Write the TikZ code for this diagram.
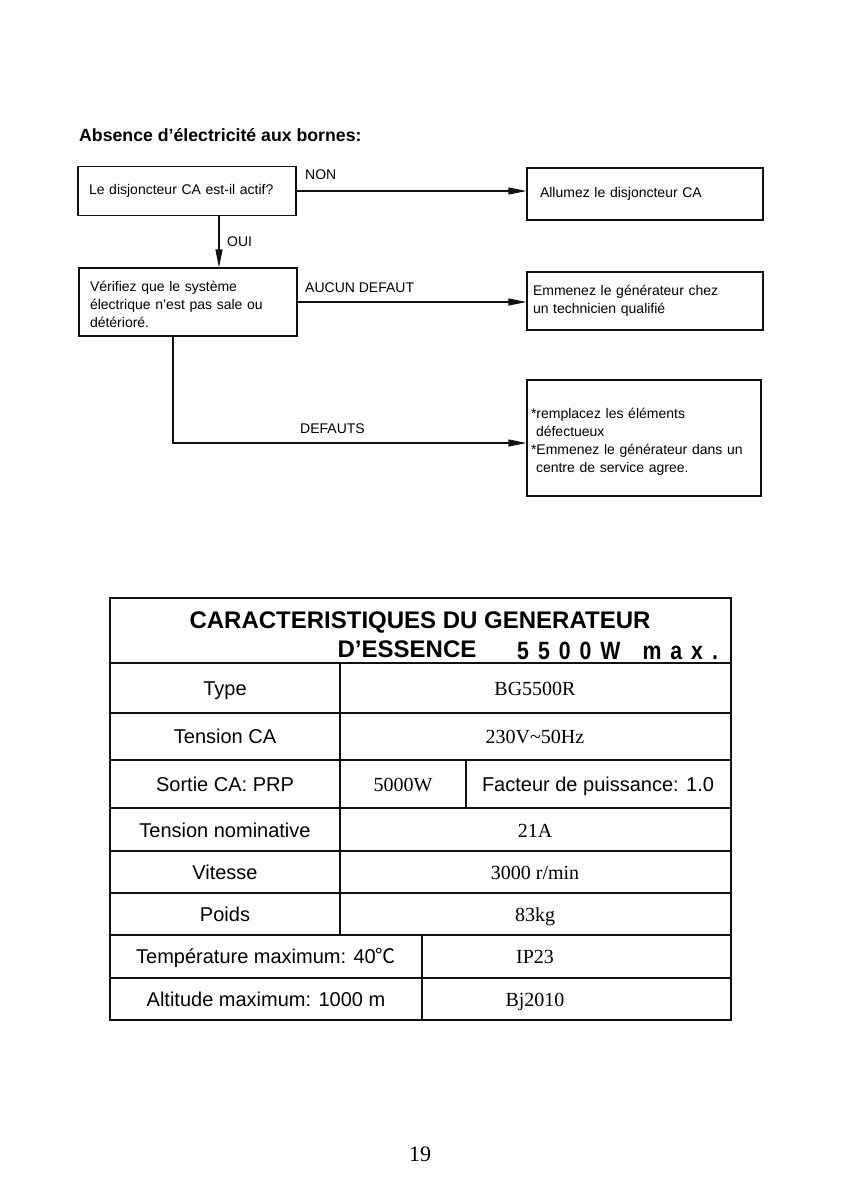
\documentclass[tikz,border=0pt]{standalone}
\usepackage{fontspec}
\setmainfont{Liberation Sans}
\newfontfamily\serifface{Liberation Serif}
\newfontfamily\narrowface[FakeStretch=0.85]{Liberation Sans}
\newfontfamily\cjkface{Noto Sans CJK SC}
\usetikzlibrary{positioning, calc, arrows.meta}
\usepackage{xcolor}
\definecolor{InkBlack}{HTML}{111111}

\begin{document}
\begin{tikzpicture}[
  x=1pt, y=-1pt,
  box/.style={rectangle, draw=InkBlack, line width=1.1pt, align=left,
    font=\fontsize{14}{18}\selectfont, inner xsep=11pt, inner ysep=2pt},
  arr/.style={-{Triangle[length=18pt, width=7pt]}, line width=1.1pt, color=InkBlack},
  lbl/.style={font=\fontsize{14}{16}\selectfont, inner sep=0pt, anchor=base west},
  tbl/.style={line width=1.2pt, color=InkBlack},
  lcell/.style={font=\fontsize{20}{24}\selectfont, inner sep=0pt, anchor=base},
  rcell/.style={font=\serifface\fontsize{20}{24}\selectfont, inner sep=0pt, anchor=base},
  head/.style={font=\bfseries\fontsize{24}{28}\selectfont, inner sep=0pt, anchor=base}
]
  \useasboundingbox (0,0) rectangle (841,1191);

  % flowchart
  \node[font=\bfseries\fontsize{17.7}{20}\selectfont, inner sep=0pt, anchor=base west]
    (title) at (79,141) {Absence d’électricité aux bornes:};

  \node[box, text width=196pt, minimum height=49pt] (q1) at (187,191)
    {Le disjoncteur CA est-il actif?};
  \node[box, text width=210pt, inner xsep=13pt, minimum height=52pt] (on) at (645,194)
    {Allumez le disjoncteur CA};
  \node[box, text width=196pt, minimum height=68pt] (chk) at (188,302)
    {\rule{0pt}{15pt}Vérifiez que le système\\électrique n’est pas sale ou\\détérioré.};
  \node[box, text width=224pt, inner xsep=6pt, minimum height=58pt] (tech) at (645,301)
    {Emmenez le générateur chez\\un technicien qualifié};
  \node[box, text width=226pt, inner xsep=4pt, minimum height=116pt] (fix) at (644,438)
    {\rule{0pt}{18pt}*remplacez les éléments\\\hspace*{5pt}défectueux\\{}*Emmenez le générateur dans un\\\hspace*{5pt}centre de service agree.};

  \coordinate (oui) at (219,0);
  \coordinate (bend) at (173,443);

  \draw[arr] (q1.east) -- (q1.east -| on.west);
  \draw[arr] (q1.south -| oui) -- (chk.north -| oui);
  \draw[arr] (chk.east) -- (chk.east -| tech.west);
  \draw[arr] (chk.south -| bend) -- (bend) -- (bend -| fix.west);

  \node[lbl] (lnon) at (305,179) {NON};
  \node[lbl] (loui) at (227,246) {OUI};
  \node[lbl] (lok) at (305,292) {AUCUN DEFAUT};
  \node[lbl] (lko) at (300,433) {DEFAUTS};

  % table
  \draw[tbl] (110,598) rectangle (731,1020);
  \foreach \y in {663,713,760,808,851,893,935,978}
    \draw[tbl] (110,\y) -- (731,\y);
  \draw[tbl] (340,663) -- (340,935);
  \draw[tbl] (466,760) -- (466,808);
  \draw[tbl] (422,935) -- (422,1020);

  \node[head] (h1) at (420,628) {CARACTERISTIQUES DU GENERATEUR};
  \node[head] (h2) at (407,657) {D’ESSENCE};
  \node[font=\narrowface\bfseries\fontsize{25}{28}\selectfont, inner sep=0pt, anchor=base west] (h3) at (517,659)
    {5\hspace{9pt}5\hspace{9pt}0\hspace{9pt}0\hspace{9pt}W\hspace{22pt}m\hspace{9pt}a\hspace{9pt}x\hspace{9pt}.};

  \node[lcell] (ktype) at (225,695) {Type};
  \node[rcell] (vtype) at (535,695) {BG5500R};
  \node[lcell] (kvolt) at (225,743) {Tension CA};
  \node[rcell] (vvolt) at (535,743) {230V\textasciitilde50Hz};
  \node[lcell] (kout) at (225,791) {Sortie CA: PRP};
  \node[rcell] (vout) at (403,791) {5000W};
  \node[lcell] (vpf) at (598,791) {Facteur de puissance: 1.0};
  \node[lcell] (knom) at (225,837) {Tension nominative};
  \node[rcell] (vnom) at (535,837) {21A};
  \node[lcell] (kspd) at (225,879) {Vitesse};
  \node[rcell] (vspd) at (535,879) {3000 r/min};
  \node[lcell] (kwt) at (225,921) {Poids};
  \node[rcell] (vwt) at (535,921) {83kg};
  \node[lcell] (ktmp) at (266,963) {Température maximum: 40{\cjkface ℃}};
  \node[rcell] (vip) at (535,963) {IP23};
  \node[lcell] (kalt) at (266,1006) {Altitude maximum: 1000 m};
  \node[rcell] (vbj) at (535,1006) {Bj2010};

  \node[font=\serifface\fontsize{22}{26}\selectfont, inner sep=0pt, anchor=base] (page) at (420,1161) {19};
\end{tikzpicture}
\end{document}
